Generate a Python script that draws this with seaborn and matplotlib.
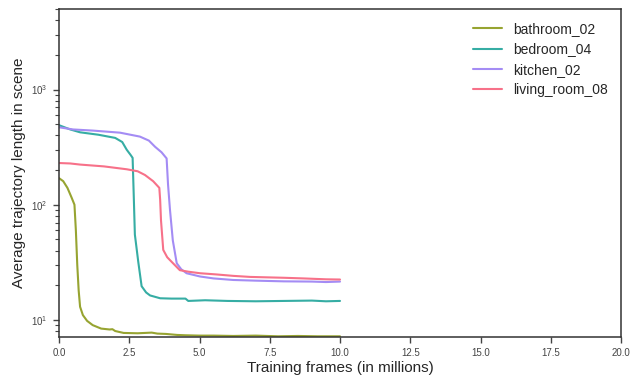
import numpy as np
import pandas as pd
import matplotlib
matplotlib.use("Agg")
import matplotlib.pyplot as plt
import seaborn as sns

scenes = ["bathroom_02", "bedroom_04", "kitchen_02", "living_room_08"]

bath_x = [0, 0.15, 0.3, 0.45, 0.55, 0.6, 0.65, 0.7, 0.75, 0.85, 1.0, 1.2, 1.5, 1.8, 1.9, 2.0, 2.3, 2.8, 3.3, 3.5, 3.8, 4.2, 4.5, 5.0, 5.5, 6.2, 7.0, 7.8, 8.5, 9.2, 10.0]
bath_y = [170, 160, 140, 115, 100, 60, 30, 18, 13, 11, 9.8, 9.0, 8.4, 8.25, 8.3, 8.0, 7.7, 7.65, 7.75, 7.6, 7.55, 7.4, 7.35, 7.3, 7.3, 7.25, 7.3, 7.2, 7.25, 7.2, 7.2]

bed_x = [0, 0.4, 0.75, 1.4, 2.0, 2.25, 2.41, 2.55, 2.62, 2.66, 2.7, 2.76, 2.82, 2.94, 3.1, 3.24, 3.6, 4.0, 4.5, 4.6, 5.2, 6.0, 7.0, 8.0, 9.0, 9.5, 10.0]
bed_y = [490, 450, 425, 405, 380, 350, 300, 270, 255, 120, 55, 42, 32, 19.6, 17.3, 16.3, 15.4, 15.3, 15.3, 14.6, 14.8, 14.6, 14.5, 14.6, 14.7, 14.5, 14.6]

kit_x = [0, 0.5, 1.2, 2.17, 2.88, 3.2, 3.42, 3.65, 3.83, 3.88, 3.95, 4.05, 4.19, 4.35, 4.54, 5.02, 5.5, 6.2, 7.0, 8.0, 9.0, 9.5, 10.0]
kit_y = [470, 450, 440, 422, 390, 360, 318, 285, 252, 150, 90, 49, 31, 27.5, 25.4, 23.8, 22.9, 22.2, 21.9, 21.6, 21.5, 21.3, 21.5]

liv_x = [0, 0.4, 0.75, 1.6, 2.41, 2.8, 3.06, 3.35, 3.57, 3.6, 3.63, 3.71, 3.85, 3.95, 4.3, 4.6, 5.02, 5.6, 6.2, 6.8, 7.39, 8.0, 8.7, 9.5, 10.0]
liv_y = [230, 228, 223, 215, 203, 195, 181, 160, 140, 110, 73, 40.5, 35, 33, 27, 26.2, 25.4, 24.8, 24.1, 23.6, 23.4, 23.2, 22.9, 22.5, 22.4]

frames = []
for name, xs, ys in zip(scenes, [bath_x, bed_x, kit_x, liv_x], [bath_y, bed_y, kit_y, liv_y]):
    frames.append(pd.DataFrame({"frames": xs, "length": ys, "scene": name}))
df = pd.concat(frames, ignore_index=True)

sns.set_theme(style="ticks")
plt.rcParams["font.family"] = ["Liberation Sans", "DejaVu Sans"]

husl = sns.husl_palette(4)
palette = {scenes[0]: husl[1], scenes[1]: husl[2], scenes[2]: husl[3], scenes[3]: husl[0]}

fig = plt.figure(figsize=(6.37, 3.77), dpi=100)
ax = fig.add_axes([59 / 637, 1 - 337 / 377, 562 / 637, 328 / 377])

sns.lineplot(data=df, x="frames", y="length", hue="scene", palette=palette,
             linewidth=1.5, ax=ax, estimator=None, sort=False)

ax.set_yscale("log")
ax.set_xlim(0, 20)
ax.set_ylim(7.1, 5000)
ax.set_xticks(np.arange(0, 20.01, 2.5))
ax.set_xlabel("Training frames (in millions)", fontsize=11, labelpad=2)
ax.set_ylabel("Average trajectory length in scene", fontsize=11, labelpad=4)
ax.tick_params(axis="both", which="major", labelsize=7, colors="#444444", length=4.5, width=1)
ax.tick_params(axis="y", which="minor", length=3, width=0.8, colors="#444444")
for s in ax.spines.values():
    s.set_color("#333333")
    s.set_linewidth(1.1)

leg = ax.legend(loc="upper right", frameon=False, fontsize=10, handlelength=2.1,
                handletextpad=0.8, borderaxespad=0.55, labelspacing=0.45)

fig.savefig("out.png", dpi=100)
